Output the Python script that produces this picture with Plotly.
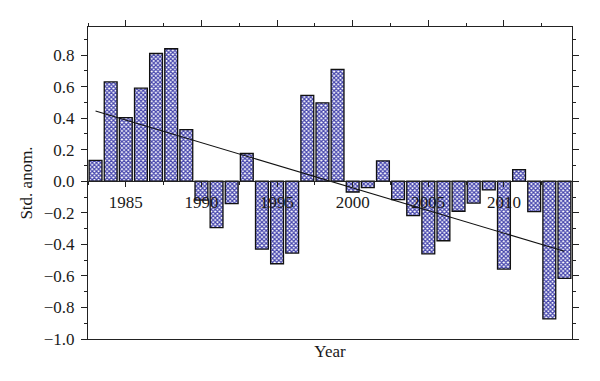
import plotly.graph_objects as go

years = list(range(1983, 2015))
anomaly = [0.133, 0.63, 0.404, 0.59, 0.81, 0.84, 0.328, -0.12, -0.294, -0.142,
           0.176, -0.43, -0.523, -0.455, 0.544, 0.497, 0.709, -0.068, -0.04, 0.129,
           -0.116, -0.218, -0.46, -0.377, -0.19, -0.138, -0.055, -0.557, 0.074, -0.193,
           -0.872, -0.616]
trend_years = [1983, 2014]
trend_values = [0.446, -0.444]

x_tickvals = [1985, 1990, 1995, 2000, 2005, 2010]
y_tickvals = [-1.0, -0.8, -0.6, -0.4, -0.2, 0.0, 0.2, 0.4, 0.6, 0.8]
y_ticktext = ["\u22121.0", "\u22120.8", "\u22120.6", "\u22120.4", "\u22120.2",
              "0.0", "0.2", "0.4", "0.6", "0.8"]

xr = [1982.5, 2014.5]
yr = [-1.0, 0.978]
zero_pos = (0 - yr[0]) / (yr[1] - yr[0])
font = dict(family="Liberation Serif", size=17, color="#1a1a1a")

fig = go.Figure()
fig.add_trace(go.Bar(
    x=years, y=anomaly, width=0.85,
    marker=dict(color="white",
                line=dict(color="#111", width=1.3),
                pattern=dict(shape="x", fgcolor="#4646ad", bgcolor="white",
                             size=3, solidity=0.65, fillmode="replace")),
    showlegend=False))
fig.add_trace(go.Scatter(x=trend_years, y=trend_values, mode="lines",
                         line=dict(color="#111", width=1.1), showlegend=False))
fig.add_trace(go.Scatter(x=xr, y=yr, xaxis="x2", mode="none", showlegend=False,
                         hoverinfo="skip"))
fig.add_trace(go.Scatter(x=xr, y=yr, xaxis="x3", mode="none", showlegend=False,
                         hoverinfo="skip"))

common_minor = dict(dtick=2.5, tick0=1982.5, ticks="outside", ticklen=3,
                    tickcolor="#222")
fig.update_layout(
    width=600, height=381,
    margin=dict(l=80, r=35.5, t=19, b=50, autoexpand=False),
    plot_bgcolor="white", paper_bgcolor="white",
    font=font,
    xaxis=dict(range=xr, showline=True, linecolor="#222", linewidth=1.2,
               showgrid=False, zeroline=False, ticks="", showticklabels=False,
               automargin=False,
               title=dict(text="Year", font=font, standoff=5)),
    xaxis2=dict(range=xr, overlaying="x", side="top", anchor="y",
                showline=True, linecolor="#222", linewidth=1.2, showgrid=False,
                zeroline=False, tickvals=x_tickvals, ticks="outside", ticklen=6,
                tickcolor="#222", showticklabels=False, automargin=False,
                minor=common_minor),
    xaxis3=dict(range=xr, overlaying="x", side="bottom", anchor="free",
                position=zero_pos, showline=True, linecolor="#222", linewidth=1.2,
                showgrid=False, zeroline=False, tickvals=x_tickvals,
                ticktext=[str(v) for v in x_tickvals], automargin=False,
                ticks="outside", ticklen=5, tickcolor="#222",
                tickfont=font, minor=common_minor),
    yaxis=dict(range=yr, showline=True, mirror="ticks", linecolor="#222",
               linewidth=1.2, showgrid=False, zeroline=False, automargin=False,
               tickvals=y_tickvals, ticktext=y_ticktext, ticks="outside",
               ticklen=6, tickcolor="#222", tickfont=font, ticklabelstandoff=3,
               minor=dict(dtick=0.1, tick0=0, ticks="outside", ticklen=3,
                          tickcolor="#222"),
               title=dict(text="Std. anom.", font=font, standoff=6)),
)
fig.write_html("out.html")
